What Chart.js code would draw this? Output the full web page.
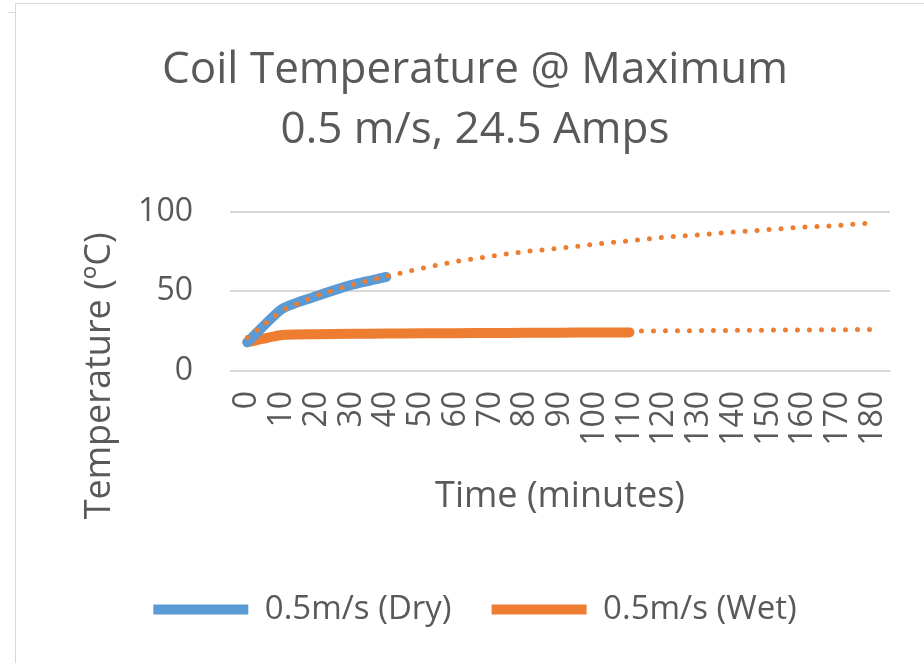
<!DOCTYPE html>
<html>
<head>
<meta charset="utf-8">
<script src="https://cdn.jsdelivr.net/npm/chart.js@4/dist/chart.umd.min.js"></script>
<style>
    html, body { margin: 0; padding: 0; background: #fff; }
    #wrap { position: relative; width: 924px; height: 663px; overflow: hidden; }
    #frame { position: absolute; left: 15px; top: 3px; width: 940px; height: 700px; border: 1px solid #d9d9d9; box-sizing: border-box; pointer-events: none; }
    #nick { position: absolute; left: 8px; top: 12px; width: 8px; height: 1px; background: #d9d9d9; }
</style>
</head>
<body>
<div id="wrap">
    <canvas id="coilChart" width="924" height="663"></canvas>
    <div id="frame"></div>
    <div id="nick"></div>
</div>
<script>
// 时间 (分钟)
const timeLabels = ['0', '10', '20', '30', '40', '50', '60', '70', '80', '90', '100',
    '110', '120', '130', '140', '150', '160', '170', '180'];

// 测量值
const dryTemps = [18, 39, 47, 54, 59];
const wetTemps = [18, 22.5, 23, 23.3, 23.5, 23.6, 23.7, 23.8, 23.9, 24, 24.1, 24.2];

// 趋势线
const dryTrend = [21, 38, 47.5, 54, 59.5, 64.3, 68.8, 72, 75, 77, 79.6, 81.7, 84, 85.5, 87.3, 88.7, 90.4, 91.3, 93];
const wetTrend = [null, null, null, null, null, null, null, null, null, null, null,
    25, 25.2, 25.3, 25.5, 25.6, 25.7, 25.9, 26];

const yTicks = [0, 50, 100];
const yTitle = 'Temperature (ºC)';

const BLUE = '#5b9bd5';
const ORANGE = '#ed7d31';
const TEXT = '#595959';
const FONT = "'Open Sans', sans-serif";

// Excel 把纵轴标题放在绘图区偏下的位置, 自己画
const yTitlePlugin = {
    id: 'yTitle',
    afterDraw(chart) {
        const c = chart.ctx;
        c.save();
        c.font = `36px ${FONT}`;
        c.fillStyle = TEXT;
        c.textAlign = 'center';
        c.textBaseline = 'middle';
        c.translate(100, chart.chartArea.bottom + 5);
        c.rotate(-Math.PI / 2);
        c.fillText(yTitle, 0, 0);
        c.restore();
    }
};

const ctx = document.getElementById('coilChart');

new Chart(ctx, {
    type: 'line',
    data: {
        labels: timeLabels,
        datasets: [
            {
                label: 'trend dry',
                data: dryTrend,
                borderColor: ORANGE,
                borderWidth: 5,
                borderDash: [0, 12],
                borderCapStyle: 'round',
                pointRadius: 0,
                tension: 0
            },
            {
                label: 'trend wet',
                data: wetTrend,
                borderColor: ORANGE,
                borderWidth: 5,
                borderDash: [0, 12],
                borderCapStyle: 'round',
                pointRadius: 0,
                tension: 0
            },
            {
                label: '0.5m/s (Dry)',
                data: dryTemps,
                borderColor: BLUE,
                backgroundColor: BLUE,
                borderWidth: 10,
                borderCapStyle: 'round',
                borderJoinStyle: 'round',
                pointRadius: 0,
                tension: 0.2
            },
            {
                label: '0.5m/s (Wet)',
                data: wetTemps,
                borderColor: ORANGE,
                backgroundColor: ORANGE,
                borderWidth: 10,
                borderCapStyle: 'round',
                borderJoinStyle: 'round',
                pointRadius: 0,
                tension: 0.2
            }
        ]
    },
    plugins: [yTitlePlugin],
    options: {
        responsive: false,
        animation: false,
        layout: {
            padding: { left: 60, right: 34, top: 0, bottom: 27 }
        },
        plugins: {
            tooltip: { enabled: false },
            title: {
                display: true,
                text: ['Coil Temperature @ Maximum', '0.5 m/s, 24.5 Amps'],
                color: TEXT,
                font: { family: FONT, size: 44, weight: 'normal', lineHeight: 1.36 },
                padding: { top: 41, bottom: 51 }
            },
            legend: {
                position: 'bottom',
                labels: {
                    color: TEXT,
                    font: { family: FONT, size: 33 },
                    boxWidth: 95,
                    boxHeight: 10,
                    padding: 40,
                    generateLabels: (chart) => chart.data.datasets
                        .map((ds, i) => ({ ds, i }))
                        .filter(o => !o.ds.label.startsWith('trend'))
                        .map(o => ({
                            text: o.ds.label,
                            fillStyle: o.ds.borderColor,
                            strokeStyle: o.ds.borderColor,
                            lineWidth: 0,
                            fontColor: TEXT,
                            datasetIndex: o.i
                        }))
                }
            }
        },
        scales: {
            x: {
                offset: true,
                afterFit: (s) => { s.paddingLeft = 0; s.paddingRight = 0; },
                grid: { display: false, drawTicks: false },
                border: { display: true, color: '#d9d9d9' },
                ticks: {
                    color: TEXT,
                    font: { family: FONT, size: 32 },
                    minRotation: 90,
                    maxRotation: 90,
                    autoSkip: false,
                    padding: 20
                },
                title: {
                    display: true,
                    text: 'Time (minutes)',
                    color: TEXT,
                    font: { family: FONT, size: 36 },
                    padding: { top: 9, bottom: 35 }
                }
            },
            y: {
                min: 0,
                max: 100,
                afterBuildTicks: (scale) => {
                    scale.ticks = yTicks.map(v => ({ value: v }));
                },
                afterFit: (s) => { s.width = 170; },
                grid: { color: '#d9d9d9', lineWidth: 2, drawTicks: false },
                border: { display: false },
                ticks: {
                    color: TEXT,
                    font: { family: FONT, size: 32 },
                    padding: 37
                }
            }
        }
    }
});
</script>
</body>
</html>
